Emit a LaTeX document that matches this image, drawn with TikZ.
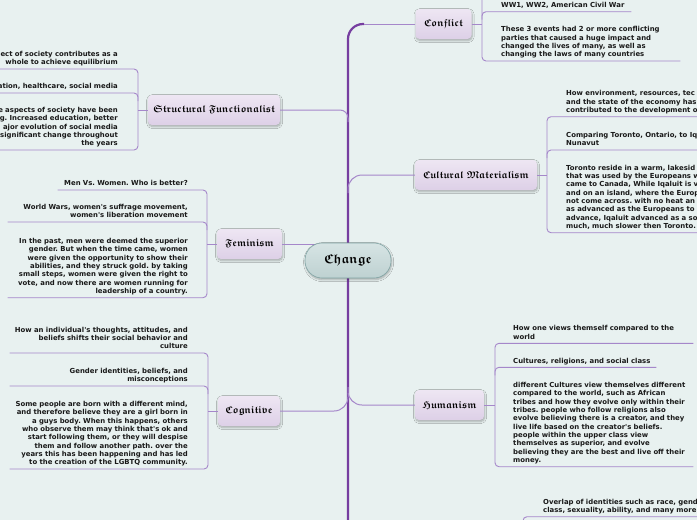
\documentclass[tikz,border=0pt]{standalone}
\usepackage{amssymb}
\usepackage{fontspec}
\usetikzlibrary{shadows.blur}
\newfontfamily\leaffont{DejaVu Sans}
\newcommand\blackletter[1]{{\boldmath$\mathfrak{#1}$}}
\frenchspacing

\definecolor{bgcol}{RGB}{232,241,240}
\definecolor{trunkcol}{RGB}{118,62,160}
\definecolor{branchcol}{RGB}{165,135,202}
\definecolor{topictop}{RGB}{238,230,243}
\definecolor{topicbot}{RGB}{221,208,231}
\definecolor{changetop}{RGB}{214,228,228}
\definecolor{changebot}{RGB}{190,209,209}
\definecolor{changeline}{RGB}{128,164,164}
\definecolor{leafcol}{RGB}{25,25,25}

\tikzset{
  topic/.style={rounded corners=4pt, top color=topictop, bottom color=topicbot,
    minimum height=30pt, inner sep=0pt, font=\fontsize{10}{12}\selectfont,
    blur shadow={shadow blur steps=6, shadow xshift=0.6pt, shadow yshift=-1.6pt,
      shadow blur radius=2pt, shadow opacity=30}},
  centre/.style={topic, rounded corners=17pt, top color=changetop, bottom color=changebot,
    draw=changeline, line width=0.6pt, minimum width=86pt, minimum height=35pt,
    font=\fontsize{13}{15}\selectfont},
  leaf/.style={font=\leaffont\bfseries\fontsize{6.9}{8.33}\selectfont, text=leafcol,
    inner xsep=0pt, inner ysep=1.5pt, execute at end node=\strut},
  leafL/.style={leaf, anchor=south east, align=right, text width=#1},
  leafR/.style={leaf, anchor=south west, align=left, text width=#1},
  branch/.style={draw=branchcol, line width=1pt},
  trunk/.style={draw=trunkcol, line width=2.2pt},
  sub/.style={draw=branchcol, line width=0.9pt, rounded corners=4pt},
}

\begin{document}
\begin{tikzpicture}[x=1pt, y=-1pt]
  \fill[bgcol] (0,0) rectangle (697,520);
  \useasboundingbox (0,0) rectangle (697,520);

  \path
    (348,24) coordinate (tTop)
    (364,24) coordinate (tTopR)
    (348,520) coordinate (tBot)
    (482,24) coordinate (cfS)
    (138,110) coordinate (sfS)
    (547,175) coordinate (cmS)
    (207,244) coordinate (femS)
    (208,411) coordinate (cogS)
    (495,405) coordinate (humS)
    (523,516.7) coordinate (ovS)
    ;

  \node[topic, minimum width=56pt] (conf) at (443.5,24) {\blackletter{Conflict}};
  \node[topic, minimum width=132pt] (sf) at (214,110) {\blackletter{Structural\ Functionalist}};
  \node[topic, minimum width=122pt] (cm) at (476,175) {\blackletter{Cultural\ Materialism}};
  \node[topic, minimum width=65pt] (fem) at (249.5,244) {\blackletter{Feminism}};
  \node[topic, minimum width=62pt] (cog) at (249,411) {\blackletter{Cognitive}};
  \node[topic, minimum width=69pt] (hum) at (449.5,405) {\blackletter{Humanism}};

  % left side
  \node[leafL=178pt] (sf1) at (118,69) {ect of society contributes as a\\whole to achieve equilibrium};
  \node[leafL=178pt] (sf2) at (118,93) {ation, healthcare, social media};
  \node[leafL=178pt] (sf3) at (118,150) {e aspects of society have been\\g. Increased education, better\\ajor evolution of social media\\significant change throughout\\the years};

  \node[leafL=130pt] (fem1) at (188,190) {Men Vs. Women. Who is better?};
  \node[leafL=180pt] (fem2) at (188,222) {World Wars, women's suffrage movement,\\women's liberation movement};
  \node[leafL=180pt] (fem3) at (188,297.7) {In the past, men were deemed the superior\\gender. But when the time came, women\\were given the opportunity to show their\\abilities, and they struck gold. by taking\\small steps, women were given the right to\\vote, and now there are women running for\\leadership of a country.};

  \node[leafL=178pt] (cog1) at (188,353) {How an individual's thoughts, attitudes, and\\beliefs shifts their social behavior and\\culture};
  \node[leafL=178pt] (cog2) at (188,386) {Gender identities, beliefs, and\\misconceptions};
  \node[leafL=178pt] (cog3) at (188,469) {Some people are born with a different mind,\\and therefore believe they are a girl born in\\a guys body. When this happens, others\\who observe them may think that's ok and\\start following them, or they will despise\\them and follow another path. over the\\years this has been happening and has led\\to the creation of the LGBTQ community.};

  % right side
  \node[leafR=130pt] (cf1) at (501,11.7) {WW1, WW2, American Civil War};
  \node[leafR=179pt] (cf2) at (501,61) {These 3 events had 2 or more conflicting\\parties that caused a huge impact and\\changed the lives of many, as well as\\changing the laws of many countries};

  \node[leafR=194pt] (cm1) at (566,116.7) {How environment, resources, tec\\and the state of the economy has\\contributed to the development o};
  \node[leafR=194pt] (cm2) at (566,150) {Comparing Toronto, Ontario, to Iq\\Nunavut};
  \node[leafR=194pt] (cm3) at (566,232.7) {Toronto reside in a warm, lakesid\\that was used by the Europeans w\\came to Canada, While Iqaluit is v\\and on an island, where the Europ\\not come across. with no heat an\\as advanced as the Europeans to\\advance, Iqaluit advanced as a so\\much, much slower then Toronto.};

  \node[leafR=180pt] (hum1) at (513,343.3) {How one views themself compared to the\\world};
  \node[leafR=143pt] (hum2) at (513,367.3) {Cultures, religions, and social class};
  \node[leafR=180pt] (hum3) at (513,466.7) {different Cultures view themselves different\\compared to the world, such as African\\tribes and how they evolve only within their\\tribes. people who follow religions also\\evolve believing there is a creator, and they\\live life based on the creator's beliefs.\\people within the upper class view\\themselves as superior, and evolve\\believing they are the best and live off their\\money.};

  \node[leafR=217pt] (ov) at (543,516.7) {Overlap of identities such as race, gend\\class, sexuality, ability, and many more};

  % brackets
  \draw[branch] (sf.west) -- (sfS);
  \draw[sub] (sf1.south west) -- (sf1.south -| sfS) -- (sf3.south -| sfS) -- (sf3.south west);
  \draw[sub] (sf2.south west) -- (sf2.south -| sfS) -- ++(0,8);

  \draw[branch] (fem.west) -- (femS);
  \draw[sub] (fem1.south west) -- (fem1.south -| femS) -- (fem3.south -| femS) -- (fem3.south west);
  \draw[sub] (fem2.south west) -- (fem2.south -| femS) -- ++(0,8);

  \draw[branch] (cog.west) -- (cogS);
  \draw[sub] (cog1.south west) -- (cog1.south -| cogS) -- (cog3.south -| cogS) -- (cog3.south west);
  \draw[sub] (cog2.south west) -- (cog2.south -| cogS) -- ++(0,8);

  \draw[branch] (conf.east) -- (cfS);
  \draw[sub] (cfS |- 0,-40) -- (cf2.south -| cfS) -- (cf2.south east);
  \draw[sub] (cf1.south -| cfS) ++(0,8) -- (cf1.south -| cfS) -- (cf1.south east);

  \draw[branch] (cm.east) -- (cmS);
  \draw[sub] (cm1.south east) -- (cm1.south -| cmS) -- (cm3.south -| cmS) -- (cm3.south east);
  \draw[sub] (cm2.south -| cmS) ++(0,8) -- (cm2.south -| cmS) -- (cm2.south east);

  \draw[branch] (hum.east) -- (humS);
  \draw[sub] (hum1.south east) -- (hum1.south -| humS) -- (hum3.south -| humS) -- (hum3.south east);
  \draw[sub] (hum2.south -| humS) ++(0,8) -- (hum2.south -| humS) -- (hum2.south east);

  \draw[sub] (ov.south east) -- (ovS) -- ++(0,20);

  % main lines
  \draw[trunk, rounded corners=15pt] (tTopR) -- (tTop) -- (tBot);
  \draw[branch] (conf.west) -- (tTopR);
  \draw[branch, rounded corners=8pt] (sf.east) -- (sf.east -| tTop) -- ++(0,12);
  \draw[branch, rounded corners=14pt] (cm.west) -- (cm.west -| tTop) -- ++(0,18);
  \draw[branch] (fem.east) -- (fem.east -| tTop);
  \draw[branch, rounded corners=14pt] (cog.east) -- (cog.east -| tTop) -- ++(0,-18);
  \draw[branch, rounded corners=14pt] (hum.west) -- (hum.west -| tTop) -- ++(0,-18);

  \node[centre] (change) at (348,260.5) {\blackletter{Change}};
\end{tikzpicture}
\end{document}
